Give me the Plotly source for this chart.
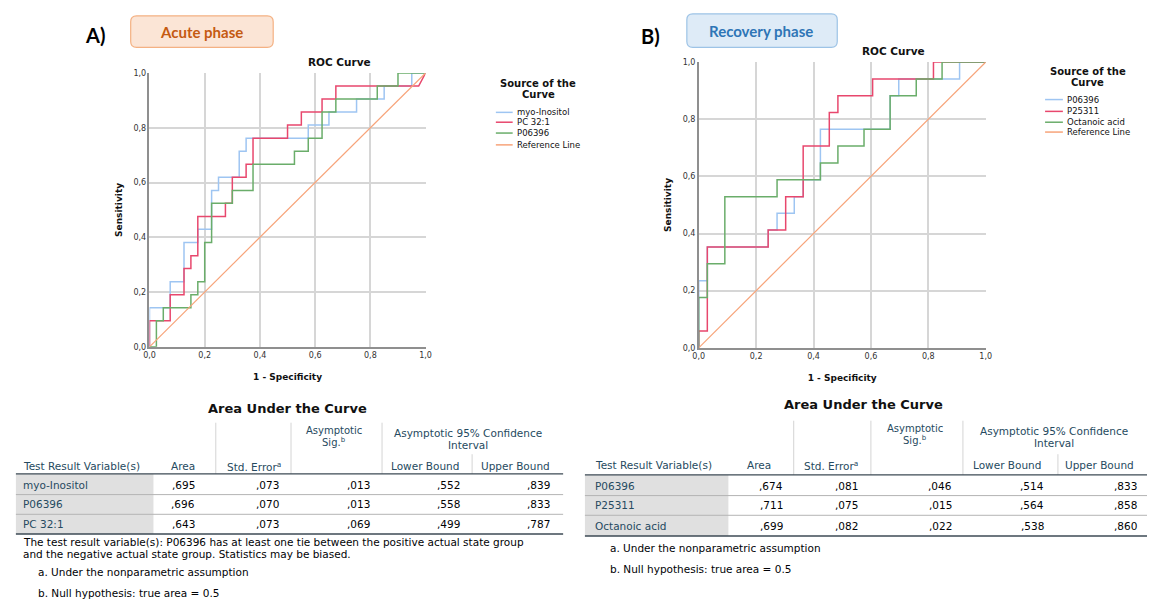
import plotly.graph_objects as go

W, H = 1153, 606
FONT = "DejaVu Sans"

# ---------------- DATA ----------------
tick_vals = [0, 0.2, 0.4, 0.6, 0.8, 1.0]
tick_text = ["0,0", "0,2", "0,4", "0,6", "0,8", "1,0"]

# Panel A (acute phase) ROC vertices: 1 - specificity / sensitivity
acute_names = ["myo-Inositol", "PC 32:1", "P06396"]
acute_myo_fpr = [0, 0, 0.075, 0.075, 0.125, 0.125, 0.175, 0.175, 0.225, 0.225,
                 0.25, 0.25, 0.325, 0.325, 0.35, 0.35, 0.575, 0.575, 0.65, 0.65,
                 0.75, 0.75, 0.85, 0.85, 0.95, 0.95, 1]
acute_myo_tpr = [0, 0.143, 0.143, 0.238, 0.238, 0.381, 0.381, 0.429, 0.429, 0.571,
                 0.571, 0.619, 0.619, 0.714, 0.714, 0.762, 0.762, 0.810, 0.810, 0.857,
                 0.857, 0.905, 0.905, 0.952, 0.952, 1, 1]
acute_pc_fpr = [0, 0, 0.075, 0.075, 0.125, 0.125, 0.15, 0.15, 0.175, 0.175,
                0.275, 0.275, 0.3, 0.3, 0.35, 0.35, 0.375, 0.375, 0.5, 0.5,
                0.55, 0.55, 0.625, 0.625, 0.675, 0.675, 0.975, 1]
acute_pc_tpr = [0, 0.095, 0.095, 0.190, 0.190, 0.286, 0.286, 0.333, 0.333, 0.476,
                0.476, 0.524, 0.524, 0.619, 0.619, 0.667, 0.667, 0.762, 0.762, 0.810,
                0.810, 0.857, 0.857, 0.905, 0.905, 0.952, 0.952, 1]
acute_p06_fpr = [0, 0.025, 0.025, 0.05, 0.05, 0.15, 0.15, 0.175, 0.175, 0.2,
                 0.2, 0.225, 0.225, 0.3, 0.3, 0.375, 0.375, 0.525, 0.525, 0.575,
                 0.575, 0.625, 0.625, 0.675, 0.675, 0.825, 0.825, 0.9, 0.9, 1]
acute_p06_tpr = [0, 0, 0.095, 0.095, 0.143, 0.143, 0.190, 0.190, 0.238, 0.238,
                 0.381, 0.381, 0.524, 0.524, 0.571, 0.571, 0.667, 0.667, 0.714, 0.714,
                 0.762, 0.762, 0.857, 0.857, 0.905, 0.905, 0.952, 0.952, 1, 1]

# Panel B (recovery phase)
recov_names = ["P06396", "P25311", "Octanoic acid"]
recov_p06_fpr = [0, 0, 0.030, 0.030, 0.242, 0.242, 0.273, 0.273, 0.333, 0.333,
                 0.364, 0.364, 0.424, 0.424, 0.667, 0.667, 0.697, 0.697, 0.909, 0.909, 1]
recov_p06_tpr = [0, 0.235, 0.235, 0.353, 0.353, 0.412, 0.412, 0.471, 0.471, 0.529,
                 0.529, 0.588, 0.588, 0.765, 0.765, 0.882, 0.882, 0.941, 0.941, 1, 1]
recov_p25_fpr = [0, 0, 0.030, 0.030, 0.242, 0.242, 0.303, 0.303, 0.364, 0.364,
                 0.455, 0.455, 0.485, 0.485, 0.606, 0.606, 0.818, 0.818, 1]
recov_p25_tpr = [0, 0.059, 0.059, 0.353, 0.353, 0.412, 0.412, 0.529, 0.529, 0.706,
                 0.706, 0.824, 0.824, 0.882, 0.882, 0.941, 0.941, 1, 1]
recov_oct_fpr = [0, 0, 0.030, 0.030, 0.091, 0.091, 0.273, 0.273, 0.424, 0.424,
                 0.485, 0.485, 0.576, 0.576, 0.667, 0.667, 0.758, 0.758, 0.848, 0.848, 1]
recov_oct_tpr = [0, 0.176, 0.176, 0.294, 0.294, 0.529, 0.529, 0.588, 0.588, 0.647,
                 0.647, 0.706, 0.706, 0.765, 0.765, 0.882, 0.882, 0.941, 0.941, 1, 1]

ref_x = [0, 1]
ref_y = [0, 1]
ref_name = "Reference Line"

# Area Under the Curve tables
acute_vars = ["myo-Inositol", "P06396", "PC 32:1"]
acute_area = [0.695, 0.696, 0.643]
acute_se = [0.073, 0.070, 0.073]
acute_sig = [0.013, 0.013, 0.069]
acute_lo = [0.552, 0.558, 0.499]
acute_hi = [0.839, 0.833, 0.787]

recov_vars = ["P06396", "P25311", "Octanoic acid"]
recov_area = [0.674, 0.711, 0.699]
recov_se = [0.081, 0.075, 0.082]
recov_sig = [0.046, 0.015, 0.022]
recov_lo = [0.514, 0.564, 0.538]
recov_hi = [0.833, 0.858, 0.860]

# ---------------- STYLE ----------------
C_BLUE, C_RED, C_GREEN, C_REF = "#9ec5f2", "#e8476d", "#6aad6a", "#f7a47a"
T_HEAD = "#264a60"
T_VAL = "#010205"


def X(px):
    return px / W


def Y(py):
    return 1 - py / H


fig = go.Figure()

for fx, fy, nm, col in [(acute_myo_fpr, acute_myo_tpr, acute_names[0], C_BLUE),
                        (acute_pc_fpr, acute_pc_tpr, acute_names[1], C_RED),
                        (acute_p06_fpr, acute_p06_tpr, acute_names[2], C_GREEN),
                        (ref_x, ref_y, ref_name, C_REF)]:
    fig.add_trace(go.Scatter(x=fx, y=fy, name=nm, mode="lines", showlegend=False,
                             line=dict(color=col, width=1.5 if col != C_REF else 1.2),
                             xaxis="x", yaxis="y"))

for fx, fy, nm, col in [(recov_p06_fpr, recov_p06_tpr, recov_names[0], C_BLUE),
                        (recov_p25_fpr, recov_p25_tpr, recov_names[1], C_RED),
                        (recov_oct_fpr, recov_oct_tpr, recov_names[2], C_GREEN),
                        (ref_x, ref_y, ref_name, C_REF)]:
    fig.add_trace(go.Scatter(x=fx, y=fy, name=nm, mode="lines", showlegend=False,
                             line=dict(color=col, width=1.5 if col != C_REF else 1.2),
                             xaxis="x2", yaxis="y2"))


def axis(domain, anchor, title, is_x):
    d = dict(domain=domain, anchor=anchor, range=[0, 1], tickmode="array",
             tickvals=tick_vals, ticktext=tick_text, showgrid=True,
             gridcolor="#d6d6d6", gridwidth=1.5, showline=True, linecolor="#8f8f8f",
             linewidth=1.5, zeroline=False, ticks="", fixedrange=True,
             tickfont=dict(family=FONT, size=8, color="#333333"),
             title=dict(text="<b>%s</b>" % title,
                        font=dict(family=FONT, size=9, color="#111111"),
                        standoff=15 if is_x else 9))
    return d


fig.update_layout(
    xaxis=axis([X(145), X(424)], "y", "1 - Specificity", True),
    yaxis=axis([Y(348), Y(70)], "x", "Sensitivity", False),
    xaxis2=axis([X(700), X(990)], "y2", "1 - Specificity", True),
    yaxis2=axis([Y(349), Y(59)], "x2", "Sensitivity", False),
)

ann = []
shapes = []


def txt(x, y, s, size=10.5, color=T_VAL, xa="left", ya="middle", family=FONT):
    ann.append(dict(x=X(x), y=Y(y), xref="paper", yref="paper", text=s,
                    showarrow=False, xanchor=xa, yanchor=ya,
                    font=dict(family=family, size=size, color=color)))


def hline(x0, x1, y, color, width=1):
    shapes.append(dict(type="line", xref="paper", yref="paper", x0=X(x0), x1=X(x1),
                       y0=Y(y), y1=Y(y), line=dict(color=color, width=width)))


def vline(x, y0, y1, color, width=1):
    shapes.append(dict(type="line", xref="paper", yref="paper", x0=X(x), x1=X(x),
                       y0=Y(y0), y1=Y(y1), line=dict(color=color, width=width)))


def rrect(x0, y0, x1, y1, r, fill, line):
    p = lambda a, b: "%f,%f" % (X(a), Y(b))
    path = ("M %s L %s Q %s %s L %s Q %s %s L %s Q %s %s L %s Q %s %s Z" % (
        p(x0 + r, y0), p(x1 - r, y0), p(x1, y0), p(x1, y0 + r), p(x1, y1 - r),
        p(x1, y1), p(x1 - r, y1), p(x0 + r, y1), p(x0, y1), p(x0, y1 - r),
        p(x0, y0 + r), p(x0, y0), p(x0 + r, y0)))
    shapes.append(dict(type="path", xref="paper", yref="paper", path=path,
                       fillcolor=fill, line=dict(color=line, width=1.2), layer="below"))


# Panel headers
txt(90, 31, "<b>A)</b>", size=20, color="#000000", xa="center", family="Lato")
rrect(126, 12, 270, 44, 6, "#fbe5d6", "#f4b183")
txt(198, 28, "<b>Acute phase</b>", size=15, color="#c55a11", xa="center", family="Lato")
txt(651, 32, "<b>B)</b>", size=20, color="#000000", xa="center", family="Lato")
rrect(688, 10, 840, 44, 6, "#deebf7", "#9dc3e6")
txt(763, 27, "<b>Recovery phase</b>", size=15, color="#2e75b6", xa="center", family="Lato")

# ROC titles
txt(337, 59, "<b>ROC Curve</b>", size=10.5, color="#111111", xa="center")
txt(897, 48, "<b>ROC Curve</b>", size=10.5, color="#111111", xa="center")


def legend(cx, title_y, line_x0, line_x1, ys, names, colors):
    txt(cx, title_y, "<b>Source of the</b>", size=10, color="#111111", xa="center")
    txt(cx, title_y + 11, "<b>Curve</b>", size=10, color="#111111", xa="center")
    for yy, nm, col in zip(ys, names, colors):
        hline(line_x0, line_x1, yy, col, 1.5)
        txt(line_x1 + 2, yy, nm, size=8.5, color="#111111")


legend(538, 81, 495, 512, [110, 120, 131, 143], acute_names + [ref_name],
       [C_BLUE, C_RED, C_GREEN, C_REF])
legend(1093, 69, 1050, 1068, [97, 109, 120, 130], recov_names + [ref_name],
       [C_BLUE, C_RED, C_GREEN, C_REF])


def fmt(v):
    return ("%.3f" % v).replace("0.", ",", 1)


def table(cfg, names, cols):
    txt(cfg["title"][0], cfg["title"][1], "<b>Area Under the Curve</b>", size=13,
        color="#111111", xa="center")
    # header grid
    for vx in cfg["vlines"]:
        vline(vx, cfg["head_top"], cfg["head_bottom"], "#d4d4d4")
    vline(cfg["split"], cfg["split_top"], cfg["head_bottom"], "#d4d4d4")
    hy = cfg["head_y"]
    hc = cfg["head_x"]
    ay = cfg["asym_y"]
    txt(cfg["label_x"], hy, "Test Result Variable(s)", color=T_HEAD)
    txt(hc[0], hy, "Area", color=T_HEAD, xa="center")
    txt(hc[1], hy, "Std. Error<sup>a</sup>", color=T_HEAD, xa="center")
    txt(hc[2], ay - 2, "Asymptotic", size=10, color=T_HEAD, xa="center")
    txt(hc[2], ay + 10, "Sig.<sup>b</sup>", size=10, color=T_HEAD, xa="center")
    txt(hc[3], ay, "Asymptotic 95% Confidence", color=T_HEAD, xa="center")
    txt(hc[3], ay + 13, "Interval", color=T_HEAD, xa="center")
    txt(hc[4], hy, "Lower Bound", color=T_HEAD, xa="center")
    txt(hc[5], hy, "Upper Bound", color=T_HEAD, xa="center")
    # body
    shapes.append(dict(type="rect", xref="paper", yref="paper", x0=X(cfg["left"]),
                       x1=X(cfg["gray_right"]), y0=Y(cfg["bottom"]),
                       y1=Y(cfg["head_bottom"]), fillcolor="#e0e0e0",
                       line=dict(width=0), layer="below"))
    for ry in cfg["row_lines"]:
        hline(cfg["left"], cfg["right"], ry, "#b4b4b4", 1)
    hline(cfg["left"], cfg["right"], cfg["head_bottom"], "#3c4a55", 1.3)
    hline(cfg["left"], cfg["right"], cfg["bottom"], "#3c4a55", 1.3)
    for i, nm in enumerate(names):
        ry = cfg["row_y"][i]
        txt(cfg["label_x"], ry, nm, color=T_HEAD)
        for j, col in enumerate(cols):
            txt(cfg["val_right"][j], ry, fmt(col[i]), xa="right")


cfgA = dict(title=(284, 411), left=10, gray_right=149, right=563,
            vlines=[212, 288, 380], split=471, head_top=425, split_top=457,
            head_bottom=477, row_lines=[498, 518], bottom=538, row_y=[488, 508, 528],
            label_x=15, val_right=[193, 278, 370, 461, 552], head_y=469,
            head_x=[179, 251, 331, 467, 423, 515], asym_y=435)
table(cfgA, acute_vars, [acute_area, acute_se, acute_sig, acute_lo, acute_hi])
txt(15, 546, "The test result variable(s): P06396 has at least one tie between the positive actual state group")
txt(15, 558, "and the negative actual state group. Statistics may be biased.")
txt(30, 577, "a. Under the nonparametric assumption")
txt(30, 598, "b. Null hypothesis: true area = 0.5")

cfgB = dict(title=(867, 407), left=585, gray_right=730, right=1153,
            vlines=[796, 874, 967], split=1063, head_top=423, split_top=457,
            head_bottom=478, row_lines=[499, 519], bottom=540, row_y=[489, 509, 530],
            label_x=593, val_right=[787, 863, 958, 1051, 1145], head_y=468,
            head_x=[761, 834, 919, 1059, 1012, 1105], asym_y=433)
table(cfgB, recov_vars, [recov_area, recov_se, recov_sig, recov_lo, recov_hi])
txt(608, 552, "a. Under the nonparametric assumption")
txt(608, 574, "b. Null hypothesis: true area = 0.5")

fig.update_layout(width=W, height=H, margin=dict(l=0, r=0, t=0, b=0),
                  paper_bgcolor="white", plot_bgcolor="white",
                  annotations=ann, shapes=shapes, showlegend=False)

# remove the page's default body margin so the figure fills the window exactly
page_css = ("document.documentElement.style.margin='0';"
            "document.documentElement.style.overflow='hidden';"
            "document.body.style.margin='0';document.body.style.overflow='hidden';")
fig.write_html("out.html", post_script=page_css,
               config={"displayModeBar": False, "responsive": False})
